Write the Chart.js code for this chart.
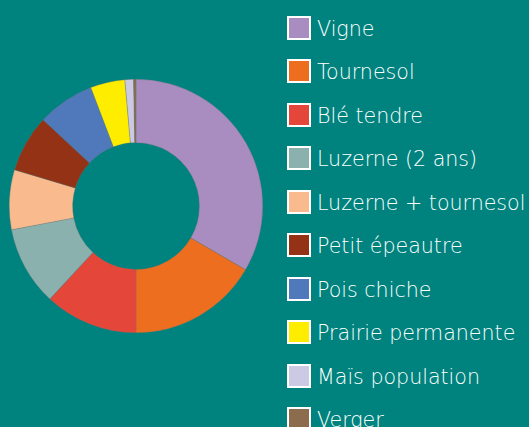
<!DOCTYPE html>
<html>
<head>
<meta charset="utf-8">
<script src="https://cdn.jsdelivr.net/npm/chart.js@4"></script>
<style>
  html, body { margin: 0; padding: 0; }
  body {
    width: 529px; height: 427px; overflow: hidden; position: relative;
    background: #00837e;
    font-family: "DejaVu Sans", sans-serif;
  }
  #chart-box { position: absolute; left: 9px; top: 79px; width: 254px; height: 254px; }
  #legend { position: absolute; left: 0; top: 0; margin: 0; padding: 0; list-style: none; }
  #legend li { position: absolute; left: 287px; height: 24px; display: flex; align-items: center; white-space: nowrap; }
  #legend .box { width: 20px; height: 20px; border: 2px solid #fff; box-sizing: content-box; flex: none; }
  #legend .txt { margin-left: 6px; color: #fff; font-size: 20.6px; font-weight: 200; line-height: 24px; position: relative; top: 1px; }
</style>
</head>
<body>
<div id="chart-box"><canvas id="crop-chart"></canvas></div>
<ul id="legend"></ul>
<script>
// Crop shares (%)
const cropLabels = ['Vigne', 'Tournesol', 'Blé tendre', 'Luzerne (2 ans)', 'Luzerne + tournesol',
  'Petit épeautre', 'Pois chiche', 'Prairie permanente', 'Maïs population', 'Verger'];
const cropShares = [33.4, 16.6, 11.9, 10.1, 7.6, 7.3, 7.3, 4.4, 1.1, 0.3];
const cropColors = ['#a98cc0', '#ec6e1e', '#e5463a', '#8ab1ae', '#f9bb8e',
  '#933214', '#4f79bb', '#ffed00', '#ccc9e5', '#8b6d4d'];

const ctx = document.getElementById('crop-chart');

const cropChart = new Chart(ctx, {
  type: 'doughnut',
  data: {
    labels: cropLabels,
    datasets: [{
      data: cropShares,
      backgroundColor: cropColors,
      borderColor: 'rgba(110, 110, 110, 0.6)',
      borderWidth: 0.5,
    }]
  },
  options: {
    responsive: true,
    maintainAspectRatio: false,
    animation: false,
    cutout: '50%',
    plugins: {
      legend: { display: false },
      tooltip: { enabled: false },
    }
  }
});

// HTML legend built from the chart's own labels
const legendEl = document.getElementById('legend');
cropChart.options.plugins.legend.labels.generateLabels(cropChart).forEach((item, i) => {
  const li = document.createElement('li');
  li.style.top = (15.7 + i * 43.5) + 'px';
  const box = document.createElement('span');
  box.className = 'box';
  box.style.background = item.fillStyle;
  const txt = document.createElement('span');
  txt.className = 'txt';
  txt.textContent = item.text;
  li.appendChild(box);
  li.appendChild(txt);
  legendEl.appendChild(li);
});
</script>
</body>
</html>
